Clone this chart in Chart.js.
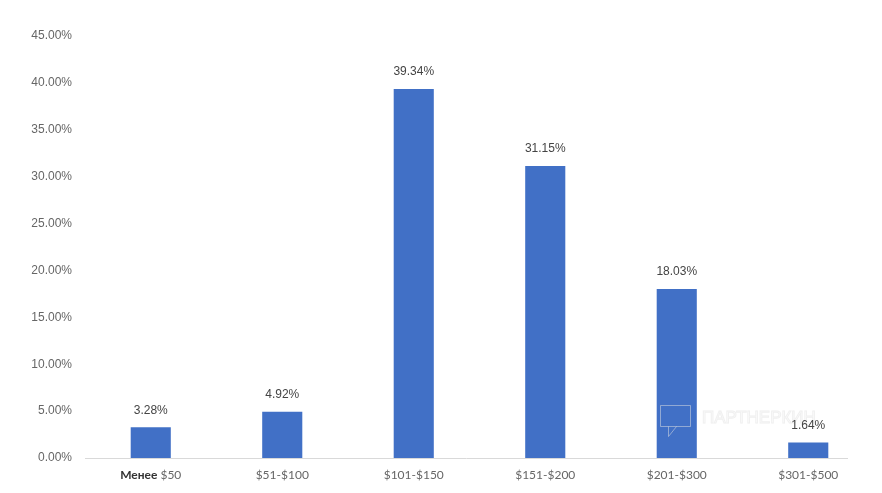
<!DOCTYPE html>
<html><head><meta charset="utf-8">
<script src="https://cdn.jsdelivr.net/npm/chart.js@4/dist/chart.umd.min.js"></script>
<style>html,body{margin:0;padding:0;background:#fff}#wrap{width:882px;height:493px;position:relative}</style>
</head><body><div id="wrap"><canvas id="c" width="882" height="493"></canvas></div>
<script>
const categories = ["Менее $50", "$51-$100", "$101-$150", "$151-$200", "$201-$300", "$301-$500"];
const shares = [3.28, 4.92, 39.34, 31.15, 18.03, 1.64];
const yTicks = [0, 5, 10, 15, 20, 25, 30, 35, 40, 45];

const labelPlugin = {
  id: 'vals',
  beforeDatasetsDraw(chart) {
    const ctx = chart.ctx, a = chart.chartArea;
    const y0 = chart.scales.y.getPixelForValue(0);
    ctx.save();
    ctx.strokeStyle = '#d9d9d9';
    ctx.lineWidth = 1;
    ctx.beginPath();
    ctx.moveTo(a.left, Math.round(y0) + 0.5);
    ctx.lineTo(848, Math.round(y0) + 0.5);
    ctx.stroke();
    ctx.restore();
  },
  afterDatasetsDraw(chart) {
    const ctx = chart.ctx;
    const meta = chart.getDatasetMeta(0);
    ctx.save();
    // watermark
    ctx.strokeStyle = 'rgba(225,225,225,0.5)';
    ctx.lineWidth = 1;
    ctx.font = '17px "Liberation Sans", Arial, sans-serif';
    ctx.textBaseline = 'middle';
    ctx.strokeText('ПАРТНЕРКИН', 702, 418);
    ctx.beginPath();
    ctx.rect(660.5, 405.5, 30, 21);
    ctx.moveTo(668.5, 426.5); ctx.lineTo(668.5, 436.5); ctx.lineTo(676.5, 426.5);
    ctx.stroke();
    ctx.restore();
    ctx.save();
    ctx.font = '12px "Liberation Sans", Arial, sans-serif';
    ctx.fillStyle = '#444';
    ctx.textAlign = 'center';
    ctx.textBaseline = 'middle';
    meta.data.forEach((bar, i) => {
      ctx.fillText(shares[i].toFixed(2) + '%', bar.x, bar.y - 17);
    });
    ctx.restore();
    // x labels
    const xs = chart.scales.x;
    const ly = chart.chartArea.bottom + 17;
    ctx.save();
    ctx.textBaseline = 'middle';
    categories.forEach((c, i) => {
      const cx = xs.getPixelForValue(i);
      if (c.startsWith('Менее')) {
        const p1 = 'Менее', p2 = c.slice(5);
        ctx.font = 'bold 12px Lato, "Liberation Sans", sans-serif';
        const w1 = ctx.measureText(p1).width;
        ctx.font = '12px Lato, "Liberation Sans", sans-serif';
        const w2 = ctx.measureText(p2).width;
        let sx = cx - (w1 + w2) / 2;
        ctx.textAlign = 'left';
        ctx.font = 'bold 12px Lato, "Liberation Sans", sans-serif';
        ctx.fillStyle = '#333';
        ctx.fillText(p1, sx, ly);
        ctx.font = '12px Lato, "Liberation Sans", sans-serif';
        ctx.fillStyle = '#666';
        ctx.fillText(p2, sx + w1, ly);
      } else {
        ctx.textAlign = 'center';
        ctx.font = '12px Lato, "Liberation Sans", sans-serif';
        ctx.fillStyle = '#666';
        ctx.fillText(c, cx, ly);
      }
    });
    ctx.restore();
  }
};

new Chart(document.getElementById('c'), {
  type: 'bar',
  data: {
    labels: categories,
    datasets: [{ data: shares, backgroundColor: '#4170c6', barPercentage: 0.305, categoryPercentage: 1 }]
  },
  options: {
    responsive: false,
    animation: false,
    layout: { padding: { top: 36, right: 8, left: 0, bottom: 0 } },
    plugins: { legend: { display: false }, tooltip: { enabled: false } },
    scales: {
      x: {
        grid: { display: false, drawTicks: false },
        border: { display: false },
        ticks: { color: 'rgba(0,0,0,0)', font: { size: 12 }, padding: 10, maxRotation: 0 },
        afterFit(s) { s.height = 35; }
      },
      y: {
        min: 0, max: 45,
        afterBuildTicks(s) { s.ticks = yTicks.map(v => ({ value: v })); },
        grid: { display: false, drawTicks: false },
        border: { display: false },
        ticks: { color: '#666', font: { family: '"Liberation Sans", Arial, sans-serif', size: 12 }, padding: 13,
          callback: v => v.toFixed(2) + '%' },
        afterFit(s) { s.width = 85; }
      }
    }
  },
  plugins: [labelPlugin]
});
</script></body></html>
